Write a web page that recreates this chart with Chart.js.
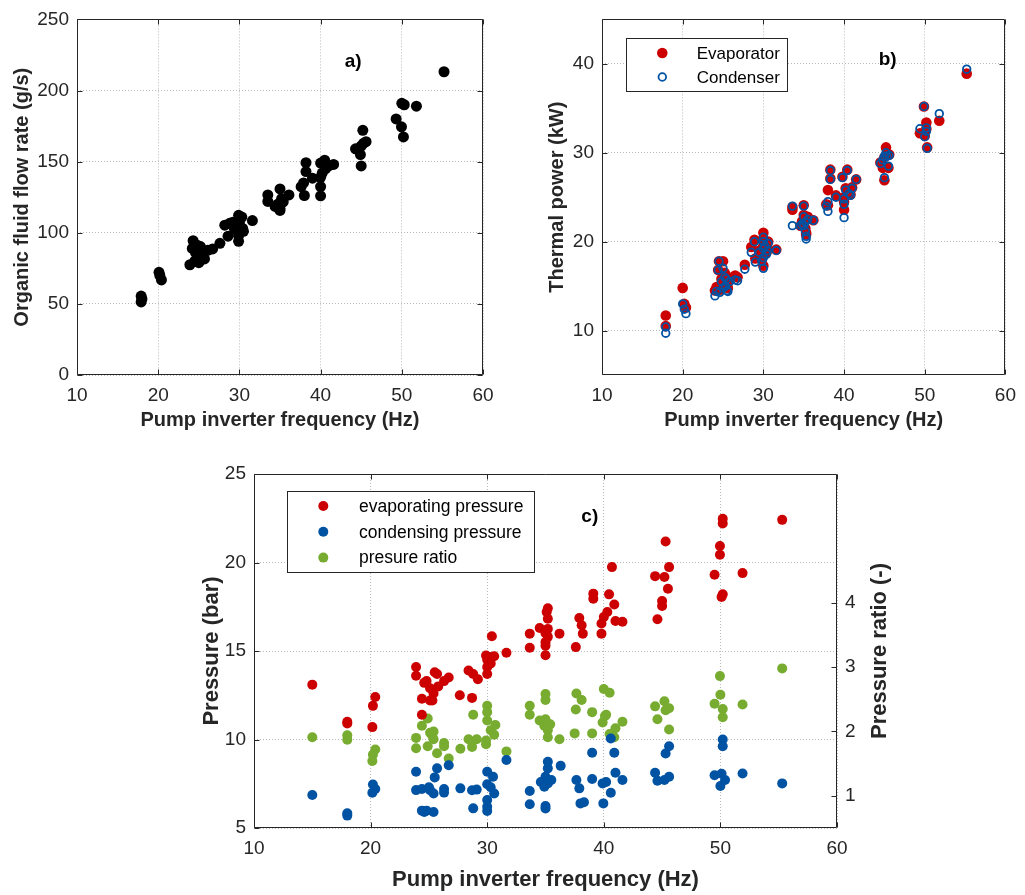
<!DOCTYPE html>
<html>
<head>
<meta charset="utf-8">
<title>ORC pump frequency</title>
<script src="https://cdn.jsdelivr.net/npm/chart.js@4.4.1/dist/chart.umd.min.js"></script>
<style>
  html, body { margin: 0; padding: 0; background: #ffffff; }
  #wrap { position: relative; width: 1025px; height: 895px; overflow: hidden; }
  #wrap canvas { position: absolute; }
</style>
</head>
<body>
<div id="wrap">
  <canvas id="chartA" width="512" height="440" style="left:0;top:0;width:512px;height:440px"></canvas>
  <canvas id="chartB" width="513" height="440" style="left:512px;top:0;width:513px;height:440px"></canvas>
  <canvas id="chartC" width="1025" height="455" style="left:0;top:440px;width:1025px;height:455px"></canvas>
</div>
<script>
// ---------- data ----------
// a) organic fluid flow rate: [pump frequency (Hz), flow rate (g/s)]
const flowRatePoints = [
  [17.9,55.5],[17.9,51.4],[18.0,53.5],
  [20.1,72.2],[20.2,70.0],[20.4,66.8],
  [23.9,77.5],[24.2,89.0],[24.3,94.4],[24.5,80.0],[24.8,91.3],[24.9,82.6],[25.0,79.0],[25.2,90.3],
  [25.3,87.6],[25.5,85.0],[25.7,81.6],[26.1,87.7],[26.7,88.6],[24.6,86.0],[25.0,84.0],
  [27.6,92.6],[28.2,105.3],[28.6,97.6],[28.8,106.6],[29.2,107.4],[29.4,102.5],[29.9,112.3],[29.9,104.0],
  [29.9,98.0],[29.9,94.0],[30.0,107.0],[30.3,111.0],[30.4,103.0],[30.5,101.0],[31.6,108.6],
  [33.5,126.6],[33.5,122.0],[34.4,118.5],[34.7,120.0],[35.0,130.8],[35.0,117.0],[35.0,115.7],[35.2,124.0],
  [35.4,121.8],[36.1,126.6],
  [37.6,132.4],[37.9,135.0],[38.0,126.2],[38.2,149.3],[38.2,143.0],[39.0,138.4],[40.0,126.0],[40.0,132.5],
  [40.0,139.0],[40.0,149.0],[40.2,142.0],[40.5,151.0],[40.6,145.0],[41.0,147.0],[41.6,148.0],
  [44.3,159.0],[44.9,155.0],[45.0,147.0],[45.0,161.0],[45.2,172.0],[45.3,163.0],[45.6,164.0],
  [49.3,180.0],[49.96,174.5],[50.0,191.0],[50.2,167.4],[50.3,190.0],[51.8,189.0],
  [55.2,213.2]
];

// b) thermal power: frequency (Hz), evaporator and condenser power (kW)
const powerFreq = [
  17.9,17.9, 20.0,20.2,20.4,
  24.0,24.2,24.5,24.4,25.0,25.2,25.3,25.5,25.0,25.8,26.5,26.8,24.8,25.4,25.6,24.6,
  27.7,28.5,28.9,29.0,29.5,30.0,30.0,30.0,30.0,30.0,30.2,30.4,30.6,31.6,29.8,30.5,
  33.6,33.6,35.0,35.0,35.2,35.2,35.3,35.0,34.8,35.5,36.2,35.3,34.6,
  37.8,38.0,38.3,38.3,39.0,38.0,40.0,40.0,39.8,40.4,40.2,40.6,41.0,41.5,40.8,40.0,
  44.5,44.8,45.0,45.2,45.0,45.5,45.3,45.6,
  49.4,49.9,50.2,50.0,50.3,51.8,50.2,
  55.2
];
const evaporatorPower = [
  11.7,10.5, 14.8,13.0,12.6,
  14.5,14.9,17.8,16.8,17.8,16.5,15.5,15.0,15.2,15.8,16.2,16.0,15.8,16.2,14.8,14.6,
  17.4,19.4,20.2,18.1,19.0,21.0,20.3,19.5,18.5,17.3,19.8,18.8,20.0,19.1,18.0,19.2,
  23.9,23.6,24.1,23.0,22.5,21.5,21.0,22.0,22.3,22.8,22.4,20.8,21.8,
  24.2,25.8,28.1,27.1,25.2,24.1,23.6,25.0,27.3,28.1,26.0,25.6,26.1,27.0,25.3,24.5,
  28.9,28.3,29.5,30.6,26.9,28.3,29.8,29.8,
  32.2,35.2,33.4,31.9,30.6,33.6,32.7,
  38.9
];
const condenserPower = [
  10.4,9.7, 13.0,12.4,11.9,
  13.9,14.4,17.8,16.8,17.0,16.0,15.0,14.5,14.8,15.5,15.7,15.6,15.5,15.8,14.4,14.3,
  16.9,18.8,20.0,17.7,18.8,20.5,20.0,19.2,18.2,17.0,19.5,18.6,19.8,19.0,17.8,19.0,
  24.0,21.8,24.0,22.8,22.2,21.2,20.3,21.8,22.0,22.5,22.4,20.6,21.8,
  24.0,24.5,28.0,27.0,25.0,23.4,22.7,24.8,27.2,28.0,25.8,25.4,26.0,27.0,25.2,24.2,
  28.8,29.2,29.6,30.0,27.2,28.5,29.6,29.7,
  32.7,35.2,32.8,31.8,30.5,34.4,32.4,
  39.4
];

// c) pressures: [frequency (Hz), pressure (bar)] and [frequency (Hz), ratio (-)]
const evaporatingPressure = [
  [15.0,13.1],[18.0,11.0],[18.0,10.9],[20.4,12.4],[20.2,11.9],[20.15,10.7],
  [23.9,14.1],[23.9,13.6],[24.4,12.3],[24.4,11.4],[24.8,13.3],[25.1,12.9],[25.3,12.2],[25.7,13.7],
  [26.3,13.3],[26.7,13.5],[25.4,12.6],[25.8,13.0],[25.1,12.2],[25.5,13.8],[24.6,13.2],
  [27.65,12.5],[28.7,12.35],[28.4,13.9],[28.8,13.7],[29.2,13.4],[30.0,14.5],[30.0,14.1],[30.0,13.7],
  [29.9,14.75],[30.2,14.66],[30.3,14.3],[30.4,15.83],[31.65,14.9],[30.6,14.7],
  [33.65,15.18],[33.65,15.98],[34.5,16.3],[35.2,17.42],[35.2,16.82],[35.2,16.25],[35.2,15.8],[35.0,15.5],
  [35.0,14.76],[35.0,15.3],[36.2,15.98],[35.1,17.2],[35.0,16.0],
  [37.9,16.86],[38.1,16.45],[38.2,15.98],[37.6,15.22],[39.1,18.24],[39.1,17.95],[40.45,18.2],[40.9,17.63],
  [40.0,16.92],[39.8,16.55],[39.8,15.98],[40.3,17.2],[41.0,16.69],[41.6,16.65],[40.7,19.74],
  [44.4,19.23],[45.2,19.18],[45.6,19.74],[45.3,21.19],[45.5,18.52],[45.0,17.82],[45.0,17.54],[44.6,16.79],
  [49.5,19.31],[49.96,20.93],[49.96,20.44],[50.2,22.47],[50.2,22.2],[50.1,18.05],[50.2,18.2],[51.9,19.4],
  [55.3,22.41]
];
const condensingPressure = [
  [15.0,6.86],[18.0,5.83],[18.0,5.7],[20.2,7.46],[20.4,7.2],[20.15,6.99],
  [23.9,8.18],[25.7,8.37],[25.5,7.86],[26.7,8.55],[23.9,7.14],[24.4,7.2],[25.1,7.14],[25.4,6.95],
  [26.3,7.2],[26.3,7.0],[24.4,5.98],[24.8,5.98],[25.4,5.9],[24.6,5.9],[25.0,7.3],
  [27.7,7.24],[28.7,7.13],[28.8,6.11],[29.1,7.17],[30.0,8.18],[30.5,7.9],[30.0,7.47],[30.3,7.3],
  [30.6,6.95],[30.0,6.58],[30.0,6.2],[30.0,5.96],[31.65,8.84],
  [33.65,7.09],[33.65,6.34],[35.0,6.24],[35.0,6.1],[35.2,8.74],[35.2,8.37],[35.0,7.89],[34.6,7.6],
  [35.2,7.52],[35.5,7.71],[36.3,8.51],[34.9,7.33],
  [37.65,7.71],[37.9,7.24],[38.0,6.39],[38.3,6.45],[39.0,9.25],[39.0,7.77],[39.9,7.52],[40.2,7.6],
  [40.6,6.99],[39.96,6.39],[40.9,9.25],[40.6,10.06],[41.0,8.12],[41.6,7.71],
  [44.4,8.12],[44.6,7.67],[45.2,7.71],[45.6,7.9],[45.3,9.21],[45.6,9.62],
  [49.5,7.98],[50.1,8.06],[50.4,7.71],[50.0,7.37],[50.2,10.0],[50.2,9.62],[51.9,8.08],[55.3,7.52]
];
const pressureRatio = [
  [15.0,1.91],[18.0,1.94],[18.0,1.87],[20.4,1.72],[20.2,1.64],[20.15,1.54],
  [23.9,1.9],[23.9,1.74],[24.4,2.09],[24.9,2.2],[25.1,1.98],[25.4,2.0],[24.9,1.77],[25.7,1.66],
  [26.3,1.82],[26.3,1.77],[26.7,1.58],[25.4,1.88],[25.3,1.93],
  [28.8,2.26],[27.7,1.73],[28.4,1.88],[28.7,1.76],[29.1,1.88],[30.0,2.4],[30.0,2.3],[30.0,2.17],
  [29.9,1.86],[30.3,2.02],[30.6,1.95],[30.7,2.1],[29.9,1.8],[31.65,1.69],
  [33.65,2.4],[33.65,2.26],[35.0,2.58],[35.0,2.49],[34.5,2.17],[34.9,2.09],[35.2,2.02],[35.2,1.91],
  [35.4,2.11],[35.0,2.19],[36.2,1.88],
  [37.65,2.59],[38.1,2.49],[37.6,2.34],[37.5,1.97],[39.0,2.3],[39.0,1.97],[40.0,2.66],[40.5,2.6],
  [40.1,2.24],[39.9,2.14],[40.2,2.26],[40.5,1.96],[40.9,1.91],[41.0,2.05],[41.6,2.15],
  [44.4,2.39],[45.2,2.47],[45.6,2.36],[45.3,2.33],[44.6,2.19],[45.6,2.03],
  [49.5,2.43],[49.96,2.86],[50.0,2.57],[50.2,2.35],[50.2,2.22],[51.9,2.42],[55.3,2.98]
];

// tick labels
const freqTicks = [10, 20, 30, 40, 50, 60];
const flowTicks = [0, 50, 100, 150, 200, 250];
const powerTicks = [10, 20, 30, 40];
const pressureTicks = [5, 10, 15, 20, 25];
const ratioTicks = [1, 2, 3, 4];

// ---------- styling ----------
const INK = '#262626';
const GRID = '#b8b8b8';
const FONT = '"Liberation Sans", Arial, Helvetica, sans-serif';
const RED = '#cc0000';
const BLUE = '#0052a3';
const GREEN = '#77ac30';

Chart.defaults.font.family = FONT;
Chart.defaults.color = INK;

const toXY = pairs => pairs.map(([x, y]) => ({ x, y }));
const fixedTicks = list => scale => { scale.ticks = list.map(v => ({ value: v })); };

function linearAxis(opt) {
  return {
    type: 'linear',
    position: opt.position,
    min: opt.min,
    max: opt.max,
    afterBuildTicks: fixedTicks(opt.ticks),
    afterFit: s => { if (opt.height) s.height = opt.height; if (opt.width) s.width = opt.width; },
    grid: { display: opt.grid !== false, color: GRID, lineWidth: 1, drawTicks: false },
    border: { display: false, dash: [1, 2] },
    ticks: {
      font: { size: opt.tickSize || 19 },
      color: INK,
      padding: opt.tickPad,
      maxRotation: 0,
      autoSkip: false
    },
    title: opt.title ? {
      display: true,
      text: opt.title,
      color: INK,
      font: { size: opt.titleSize, weight: 'bold' },
      padding: opt.titlePad
    } : { display: false }
  };
}

// axes box with inward tick marks on all four sides
function framePlugin(cfg) {
  return {
    id: 'frame',
    afterDatasetsDraw(chart) {
      const { ctx, chartArea: a } = chart;
      const len = cfg.tickLength;
      const L = Math.round(a.left) + 0.5, R = Math.round(a.right) - 0.5;
      const T = Math.round(a.top) + 0.5, B = Math.round(a.bottom) - 0.5;
      ctx.save();
      ctx.strokeStyle = INK;
      ctx.lineWidth = 1;
      ctx.beginPath();
      ctx.rect(L, T, R - L, B - T);
      const xs = chart.scales.x;
      xs.ticks.forEach(t => {
        const p = Math.round(xs.getPixelForValue(t.value)) + 0.5;
        ctx.moveTo(p, B); ctx.lineTo(p, B - len);
        ctx.moveTo(p, T); ctx.lineTo(p, T + len);
      });
      const yl = chart.scales.y;
      yl.ticks.forEach(t => {
        const p = Math.round(yl.getPixelForValue(t.value)) + 0.5;
        ctx.moveTo(L, p); ctx.lineTo(L + len, p);
      });
      const yr = chart.scales[cfg.rightScale || 'y'];
      yr.ticks.forEach(t => {
        const p = Math.round(yr.getPixelForValue(t.value)) + 0.5;
        ctx.moveTo(R, p); ctx.lineTo(R - len, p);
      });
      ctx.stroke();
      ctx.restore();
    }
  };
}

// boxed legend inside the plot, built from the chart's datasets
function legendPlugin(cfg) {
  return {
    id: 'boxLegend',
    afterDatasetsDraw(chart) {
      const { ctx } = chart;
      ctx.save();
      ctx.fillStyle = '#ffffff';
      ctx.fillRect(cfg.left, cfg.top, cfg.width, cfg.height);
      ctx.strokeStyle = INK;
      ctx.lineWidth = 1;
      ctx.strokeRect(Math.round(cfg.left) + 0.5, Math.round(cfg.top) + 0.5, Math.round(cfg.width), Math.round(cfg.height));
      ctx.font = cfg.fontSize + 'px ' + FONT;
      ctx.textBaseline = 'middle';
      ctx.textAlign = 'left';
      chart.data.datasets.forEach((ds, i) => {
        const cy = cfg.firstRow + i * cfg.rowGap;
        ctx.beginPath();
        ctx.arc(cfg.markerX, cy, ds.pointRadius, 0, Math.PI * 2);
        if (ds.pointBorderWidth > 0) {
          ctx.lineWidth = ds.pointBorderWidth;
          ctx.strokeStyle = ds.pointBorderColor;
          ctx.stroke();
        } else {
          ctx.fillStyle = ds.pointBackgroundColor;
          ctx.fill();
        }
        ctx.fillStyle = '#000000';
        ctx.fillText(ds.label, cfg.textX, cy + 1);
      });
      ctx.restore();
    }
  };
}

// panel letter placed in data coordinates
function panelLabelPlugin(cfg) {
  return {
    id: 'panelLabel',
    afterDatasetsDraw(chart) {
      const { ctx } = chart;
      const px = chart.scales.x.getPixelForValue(cfg.x);
      const py = chart.scales.y.getPixelForValue(cfg.y);
      ctx.save();
      ctx.font = 'bold ' + cfg.size + 'px ' + FONT;
      ctx.fillStyle = '#000000';
      ctx.textAlign = 'center';
      ctx.textBaseline = 'middle';
      ctx.fillText(cfg.text, px, py);
      ctx.restore();
    }
  };
}

// right-hand axis title, read bottom to top like the left one
function rightTitlePlugin(cfg) {
  return {
    id: 'rightTitle',
    afterDraw(chart) {
      const { ctx, chartArea: a } = chart;
      ctx.save();
      ctx.translate(cfg.x, (a.top + a.bottom) / 2);
      ctx.rotate(-Math.PI / 2);
      ctx.font = 'bold ' + cfg.size + 'px ' + FONT;
      ctx.fillStyle = INK;
      ctx.textAlign = 'center';
      ctx.textBaseline = 'middle';
      ctx.fillText(cfg.text, 0, 0);
      ctx.restore();
    }
  };
}

const common = {
  responsive: false,
  animation: false,
  events: [],
  devicePixelRatio: 1,
  plugins: { legend: { display: false }, tooltip: { enabled: false } }
};

// ---------- a) flow rate ----------
new Chart(document.getElementById('chartA'), {
  type: 'scatter',
  data: {
    datasets: [{
      label: 'Organic fluid flow rate',
      data: toXY(flowRatePoints),
      pointRadius: 5.5,
      pointBackgroundColor: '#000000',
      pointBorderWidth: 0,
      showLine: false
    }]
  },
  options: {
    ...common,
    layout: { padding: { left: 0, right: 29, top: 15, bottom: 0 } },
    scales: {
      x: linearAxis({ position: 'bottom', min: 10, max: 60, ticks: freqTicks, height: 65, tickPad: 9,
        title: 'Pump inverter frequency (Hz)', titleSize: 20, titlePad: { bottom: 8 } }),
      y: linearAxis({ position: 'left', min: 0, max: 250, ticks: flowTicks, width: 77, tickPad: 8,
        title: 'Organic fluid flow rate (g/s)', titleSize: 20, titlePad: { top: 10.5 } })
    }
  },
  plugins: [framePlugin({ tickLength: 5 }), panelLabelPlugin({ text: 'a)', x: 44.0, y: 220, size: 19 })]
});

// ---------- b) thermal power ----------
new Chart(document.getElementById('chartB'), {
  type: 'scatter',
  data: {
    datasets: [
      {
        label: 'Evaporator',
        data: powerFreq.map((f, i) => ({ x: f, y: evaporatorPower[i] })),
        pointRadius: 5.3,
        pointBackgroundColor: RED,
        pointBorderColor: RED,
        pointBorderWidth: 0,
        order: 1
      },
      {
        label: 'Condenser',
        data: powerFreq.map((f, i) => ({ x: f, y: condenserPower[i] })),
        pointRadius: 3.8,
        pointBackgroundColor: 'rgba(0,0,0,0)',
        pointBorderColor: BLUE,
        pointBorderWidth: 1.8,
        order: 0
      }
    ]
  },
  options: {
    ...common,
    layout: { padding: { left: 0, right: 15, top: 15, bottom: 0 } },
    scales: {
      x: linearAxis({ position: 'bottom', min: 10, max: 60, ticks: freqTicks, height: 65, tickPad: 9,
        title: 'Pump inverter frequency (Hz)', titleSize: 20, titlePad: { bottom: 8 } }),
      y: linearAxis({ position: 'left', min: 5, max: 45, ticks: powerTicks, width: 90, tickPad: 8,
        title: 'Thermal power (kW)', titleSize: 20, titlePad: { top: 33.5 } })
    }
  },
  plugins: [
    framePlugin({ tickLength: 5 }),
    legendPlugin({ left: 114, top: 38, width: 161, height: 53, markerX: 150.3, textX: 184.7,
      firstRow: 53, rowGap: 24, fontSize: 17 }),
    panelLabelPlugin({ text: 'b)', x: 45.4, y: 40.45, size: 19 })
  ]
});

// ---------- c) pressures ----------
new Chart(document.getElementById('chartC'), {
  type: 'scatter',
  data: {
    datasets: [
      {
        label: 'evaporating pressure',
        data: toXY(evaporatingPressure),
        yAxisID: 'y',
        pointRadius: 5,
        pointBackgroundColor: RED,
        pointBorderWidth: 0
      },
      {
        label: 'condensing pressure',
        data: toXY(condensingPressure),
        yAxisID: 'y',
        pointRadius: 5,
        pointBackgroundColor: BLUE,
        pointBorderWidth: 0
      },
      {
        label: 'presure ratio',
        data: toXY(pressureRatio),
        yAxisID: 'y2',
        pointRadius: 5,
        pointBackgroundColor: GREEN,
        pointBorderWidth: 0
      }
    ]
  },
  options: {
    ...common,
    layout: { padding: { left: 180, right: 128, top: 34, bottom: 0 } },
    scales: {
      x: linearAxis({ position: 'bottom', min: 10, max: 60, ticks: freqTicks, height: 67, tickPad: 9,
        title: 'Pump inverter frequency (Hz)', titleSize: 22, titlePad: { bottom: 2 } }),
      y: linearAxis({ position: 'left', min: 5, max: 25, ticks: pressureTicks, width: 74, tickPad: 8,
        title: 'Pressure (bar)', titleSize: 22, titlePad: { top: 18.8 } }),
      y2: linearAxis({ position: 'right', min: 0.5, max: 6, ticks: ratioTicks, width: 60, tickPad: 8,
        grid: false })
    }
  },
  plugins: [
    framePlugin({ tickLength: 5, rightScale: 'y2' }),
    legendPlugin({ left: 287, top: 51, width: 247, height: 81, markerX: 323.3, textX: 359,
      firstRow: 66, rowGap: 25.8, fontSize: 17.5 }),
    panelLabelPlugin({ text: 'c)', x: 38.8, y: 22.57, size: 19 }),
    rightTitlePlugin({ text: 'Pressure ratio (-)', x: 880, size: 22 })
  ]
});
</script>
</body>
</html>
